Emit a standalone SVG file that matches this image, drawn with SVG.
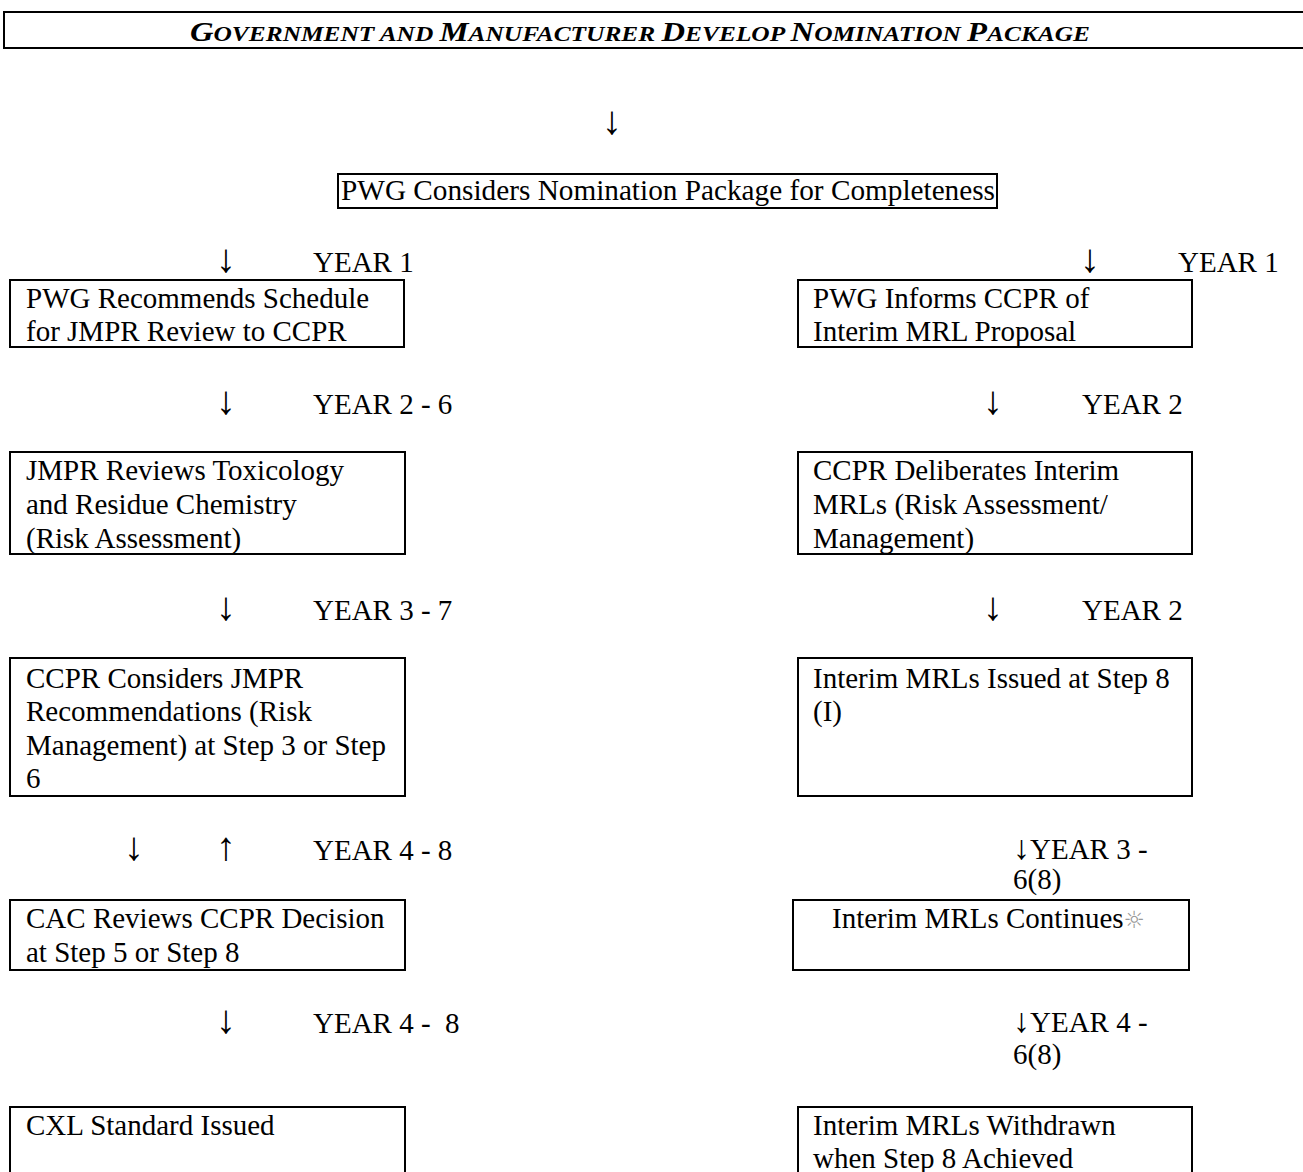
<svg xmlns="http://www.w3.org/2000/svg" width="1303" height="1172" viewBox="0 0 1303 1172">
<style>
.box{fill:#fff;stroke:#000;stroke-width:2}
.t{font-family:"Liberation Serif","Times New Roman",serif;font-size:29px;fill:#000}
.ar{font-family:"Liberation Serif","Times New Roman",serif;font-size:40px;fill:#000}
.ar2{font-family:"Liberation Serif","Times New Roman",serif;font-size:34px;fill:#000}
.ttl{font-family:"Liberation Serif","Times New Roman",serif;font-size:27px;font-weight:bold;font-style:italic;fill:#000}
.sc{font-size:21px}
.sun{font-family:"DejaVu Sans",sans-serif;font-size:24px;fill:#999}
</style>
<rect width="1303" height="1172" fill="#fff"/>
<g id="title">
<rect class="box" x="4" y="12" width="1310" height="36"/>
<text class="ttl" x="190" y="41" textLength="900" lengthAdjust="spacingAndGlyphs">G<tspan class="sc">OVERNMENT AND </tspan>M<tspan class="sc">ANUFACTURER </tspan>D<tspan class="sc">EVELOP </tspan>N<tspan class="sc">OMINATION </tspan>P<tspan class="sc">ACKAGE</tspan></text>
</g>
<g id="pwg-considers">
<rect class="box" x="338" y="174" width="659" height="34"/>
<text class="t" x="341" y="200" textLength="654" lengthAdjust="spacingAndGlyphs">PWG Considers Nomination Package for Completeness</text>
</g>
<g id="left1">
<rect class="box" x="10" y="280" width="394" height="67"/>
<text class="t" x="26" y="308">PWG Recommends Schedule</text>
<text class="t" x="26" y="341">for JMPR Review to CCPR</text>
</g>
<g id="left2">
<rect class="box" x="10" y="452" width="395" height="102"/>
<text class="t" x="26" y="480">JMPR Reviews Toxicology</text>
<text class="t" x="26" y="514">and Residue Chemistry</text>
<text class="t" x="26" y="548">(Risk Assessment)</text>
</g>
<g id="left3">
<rect class="box" x="10" y="658" width="395" height="138"/>
<text class="t" x="26" y="688">CCPR Considers JMPR</text>
<text class="t" x="26" y="721">Recommendations (Risk</text>
<text class="t" x="26" y="755">Management) at Step 3 or Step</text>
<text class="t" x="26" y="788">6</text>
</g>
<g id="left4">
<rect class="box" x="10" y="900" width="395" height="70"/>
<text class="t" x="26" y="928">CAC Reviews CCPR Decision</text>
<text class="t" x="26" y="962">at Step 5 or Step 8</text>
</g>
<g id="left5">
<rect class="box" x="10" y="1107" width="395" height="80"/>
<text class="t" x="26" y="1135">CXL Standard Issued</text>
</g>
<g id="right1">
<rect class="box" x="798" y="280" width="394" height="67"/>
<text class="t" x="813" y="308">PWG Informs CCPR of</text>
<text class="t" x="813" y="341">Interim MRL Proposal</text>
</g>
<g id="right2">
<rect class="box" x="798" y="452" width="394" height="102"/>
<text class="t" x="813" y="480">CCPR Deliberates Interim</text>
<text class="t" x="813" y="514">MRLs (Risk Assessment/</text>
<text class="t" x="813" y="548">Management)</text>
</g>
<g id="right3">
<rect class="box" x="798" y="658" width="394" height="138"/>
<text class="t" x="813" y="688">Interim MRLs Issued at Step 8</text>
<text class="t" x="813" y="721">(I)</text>
</g>
<g id="right4">
<rect class="box" x="793" y="900" width="396" height="70"/>
<text class="t" x="832" y="928">Interim MRLs Continues<tspan class="sun">☼</tspan></text>
</g>
<g id="right5">
<rect class="box" x="798" y="1107" width="394" height="80"/>
<text class="t" x="813" y="1135">Interim MRLs Withdrawn</text>
<text class="t" x="813" y="1168">when Step 8 Achieved</text>
</g>
<g id="connectors">
<text class="ar" x="612" y="134" text-anchor="middle">↓</text>
<text class="ar" x="226" y="272" text-anchor="middle">↓</text>
<text class="t" x="313" y="272">YEAR 1</text>
<text class="ar" x="1090" y="272" text-anchor="middle">↓</text>
<text class="t" x="1178" y="272">YEAR 1</text>
<text class="ar" x="226" y="414" text-anchor="middle">↓</text>
<text class="t" x="313" y="414">YEAR 2 - 6</text>
<text class="ar" x="993" y="414" text-anchor="middle">↓</text>
<text class="t" x="1082" y="414">YEAR 2</text>
<text class="ar" x="226" y="620" text-anchor="middle">↓</text>
<text class="t" x="313" y="620">YEAR 3 - 7</text>
<text class="ar" x="993" y="620" text-anchor="middle">↓</text>
<text class="t" x="1082" y="620">YEAR 2</text>
<text class="ar" x="134" y="860" text-anchor="middle">↓</text>
<text class="ar" x="226" y="860" text-anchor="middle">↑</text>
<text class="t" x="313" y="860">YEAR 4 - 8</text>
<text class="ar2" x="1013" y="859">↓</text>
<text class="t" x="1030" y="859">YEAR 3 -</text>
<text class="t" x="1013" y="889">6(8)</text>
<text class="ar" x="226" y="1033" text-anchor="middle">↓</text>
<text class="t" x="313" y="1033" xml:space="preserve">YEAR 4 -  8</text>
<text class="ar2" x="1013" y="1032">↓</text>
<text class="t" x="1030" y="1032">YEAR 4 -</text>
<text class="t" x="1013" y="1064">6(8)</text>
</g>
</svg>
